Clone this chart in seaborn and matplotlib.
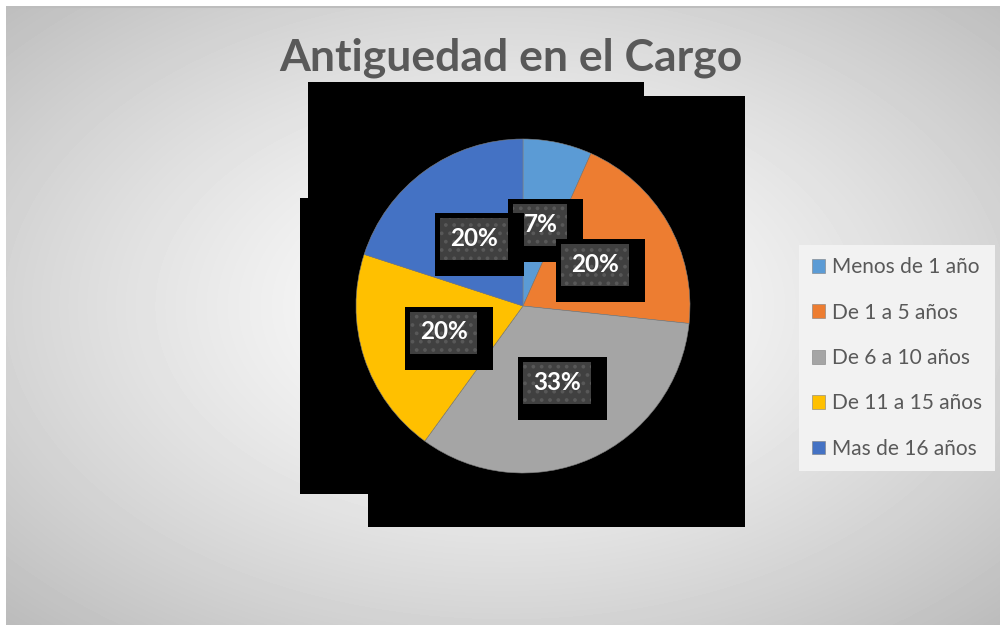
import numpy as np
import matplotlib
matplotlib.use("Agg")
import matplotlib.pyplot as plt
from matplotlib.transforms import IdentityTransform
from matplotlib.patches import Rectangle
import seaborn as sns

# ---- data ----
categories = ["Menos de 1 año", "De 1 a 5 años", "De 6 a 10 años",
              "De 11 a 15 años", "Mas de 16 años"]
counts = [1, 3, 5, 3, 3]
colors = ["#5B9BD5", "#ED7D31", "#A5A5A5", "#FFC000", "#4472C4"]
title = "Antiguedad en el Cargo"

sns.set_style("white")
plt.rcParams["font.family"] = ["Lato", "DejaVu Sans"]
plt.rcParams["hatch.linewidth"] = 1.5

W, H = 1000, 625
fig = plt.figure(figsize=(10, 6.25), dpi=100)
fig.patch.set_facecolor("white")

# background gradient axes (chart area)
bg = fig.add_axes([6 / W, 0, 994 / W, 619 / H], zorder=-3)
bg.set_axis_off()
yy, xx = np.mgrid[0:619, 0:994]
d = np.sqrt(((xx - 500) / 994) ** 2 + ((yy - 300) / 619) ** 2)
val = np.clip(1.0 - 0.26 * (d / 0.707) ** 1.3, 0, 1)
bg.imshow(val, cmap="gray", vmin=0, vmax=1, aspect="auto",
          extent=(0, 994, 619, 0), interpolation="bilinear")
bg.set_xlim(0, 994)
bg.set_ylim(619, 0)
bg.axhline(0.8, color="#bdbdbd", lw=1.5)

# black shadow of plot area (image pixel coords)
def px_rect(x0, y0, x1, y1):
    return Rectangle((x0 / W, 1 - y1 / H), (x1 - x0) / W, (y1 - y0) / H,
                     transform=fig.transFigure, facecolor="black",
                     edgecolor="none", zorder=-1)

for r in [(308, 82, 644, 490), (300, 198, 700, 494), (368, 96, 745, 527)]:
    fig.add_artist(px_rect(*r))

# pie axes
cx, cy, R = 523, 306, 167
ax = fig.add_axes([(cx - R) / W, 1 - (cy + R) / H, 2 * R / W, 2 * R / H], zorder=1)
ax.patch.set_alpha(0)
wedges, _ = ax.pie(counts, colors=sns.color_palette(colors), startangle=90,
                   counterclock=False, radius=1,
                   wedgeprops=dict(linewidth=0.4, edgecolor="#7f7f7f"))
ax.set_xlim(-1, 1)
ax.set_ylim(-1, 1)
ax.set_aspect("equal")
ax.set_axis_off()

# data labels
total = sum(counts)
angle = 90.0
labels = []
for i, c in enumerate(counts):
    span = 360.0 * c / total
    mid = np.deg2rad(angle - span / 2)
    angle -= span
    x, y = 0.5 * np.cos(mid), 0.5 * np.sin(mid)
    lab = f"{100 * c / total:.0f}%"
    t = ax.text(x, y, lab, ha="center", va="center", fontsize=17.5,
                fontweight="bold", color="white", zorder=20 + 3 * i)
    labels.append(t)

fig.canvas.draw()
renderer = fig.canvas.get_renderer()
for i, t in enumerate(labels):
    ext = t.get_window_extent(renderer)
    xm = (ext.x0 + ext.x1) / 2
    ym = (ext.y0 + ext.y1) / 2 - 1
    hw = ext.width / 2 + 10
    hh = 21
    # shadow
    ax.add_artist(Rectangle((xm - hw - 5, ym - hh - 16), 2 * hw + 21, 2 * hh + 21,
                            transform=IdentityTransform(), facecolor="black",
                            edgecolor="none", zorder=18 + 3 * i, clip_on=False))
    # hatched label box
    ax.add_artist(Rectangle((xm - hw, ym - hh), 2 * hw, 2 * hh,
                            transform=IdentityTransform(), facecolor="#404040",
                            edgecolor="#585858", linewidth=0, hatch="..",
                            zorder=19 + 3 * i, clip_on=False))

# legend
leg = fig.legend(wedges, categories, loc="center left",
                 bbox_to_anchor=(799 / W, 1 - 358 / H), frameon=True,
                 facecolor="#f2f2f2", edgecolor="none", fancybox=False,
                 framealpha=1, fontsize=15, handlelength=0.65,
                 handleheight=0.65, handletextpad=0.35, labelspacing=1.22,
                 borderpad=0.6, borderaxespad=0)
for t in leg.get_texts():
    t.set_color("#595959")

fig.text(511 / W, 1 - 58 / H, title, ha="center", va="center",
         fontsize=32, fontweight="bold", color="#595959")

fig.savefig("out.png", dpi=100)
